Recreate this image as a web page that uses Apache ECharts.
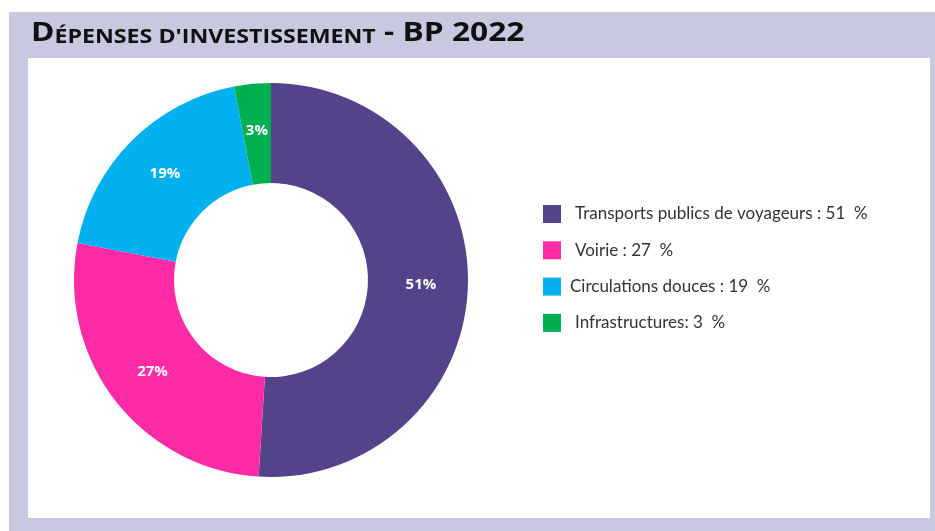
<!DOCTYPE html>
<html><head><meta charset="utf-8">
<script src="https://cdn.jsdelivr.net/npm/echarts@6/dist/echarts.min.js"></script>
<style>html,body{margin:0;padding:0;background:#fff}#c{width:935px;height:531px}</style>
</head><body><div id="c"></div>
<script>
const categories = ["Transports publics de voyageurs", "Voirie", "Circulations douces", "Infrastructures"];
const values = [51, 27, 19, 3];
const colors = ["#52438a", "#ff2aa6", "#00b0ef", "#00b050"];
const separators = [" : ", " : ", " : ", ": "];
const textIndent = [9, 9, 4, 9];

const chart = echarts.init(document.getElementById('c'), null, {renderer: 'canvas'});
chart.setOption({
  animation: false,
  backgroundColor: '#ffffff',
  graphic: [
    {type: 'rect', z: -10, shape: {x: 9, y: 12, width: 926, height: 519}, style: {fill: '#c8c8e0'}},
    {type: 'rect', z: -9, shape: {x: 28, y: 58, width: 902, height: 460}, style: {fill: '#ffffff'}},
    {type: 'text', x: 31, y: 15, scaleX: 1.22, originX: 0, style: {
      text: '{b|D}{s|ÉPENSES D\'INVESTISSEMENT}{b| - BP 2022}',
      rich: {
        b: {fontFamily: 'Open Sans', fontWeight: 'bold', fontSize: 26, fill: '#111111', lineHeight: 32, verticalAlign: 'bottom'},
        s: {fontFamily: 'Open Sans', fontWeight: 'bold', fontSize: 19, fill: '#111111', lineHeight: 32, verticalAlign: 'bottom'}
      }
    }}
  ],
  legend: {
    orient: 'vertical', left: 543, top: 205, padding: 0,
    itemWidth: 18, itemHeight: 18, itemGap: 18.3, icon: 'rect',
    textStyle: {fontFamily: 'Lato', fontSize: 17, color: '#333333'},
    formatter: function (name) {
      const i = categories.indexOf(name);
      return name + separators[i] + values[i] + '  %';
    },
    data: categories.map((n, i) => ({name: n, textStyle: {padding: [0, 0, 0, textIndent[i]]}}))
  },
  series: [{
    type: 'pie',
    center: [271, 280],
    radius: [97, 197],
    startAngle: 90,
    clockwise: true,
    avoidLabelOverlap: false,
    label: {show: true, position: 'inside', formatter: '{c}%', color: '#ffffff', fontWeight: 'bold', fontSize: 15, fontFamily: 'Open Sans'},
    labelLine: {show: false},
    itemStyle: {borderWidth: 0},
    emphasis: {disabled: true},
    data: categories.map((n, i) => ({name: n, value: values[i], itemStyle: {color: colors[i]}}))
  }]
});
</script></body></html>
